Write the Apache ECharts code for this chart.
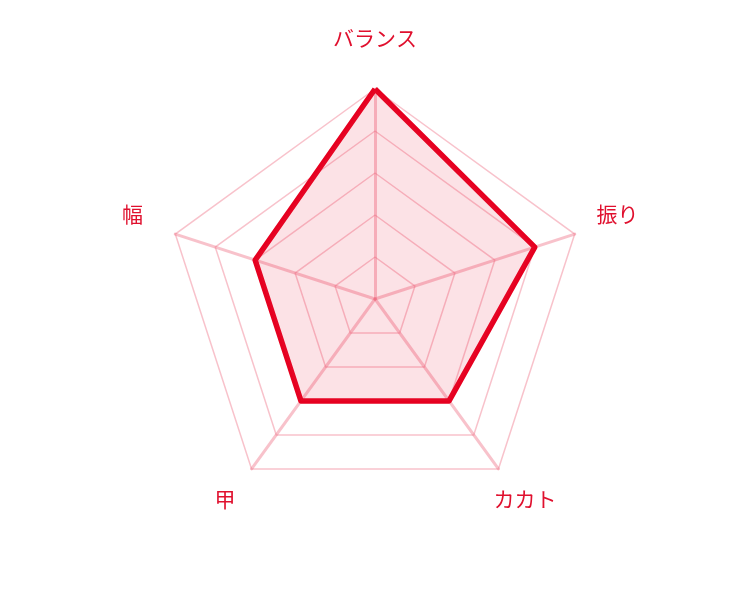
<!DOCTYPE html>
<html><head><meta charset="utf-8">
<script src="https://cdn.jsdelivr.net/npm/echarts@6/dist/echarts.min.js"></script>
<style>html,body{margin:0;padding:0;background:#fff}#c{width:750px;height:600px}</style>
</head><body><div id="c"></div>
<script>
const indicators = ['バランス', '幅', '甲', 'カカト', '振り'];
const maxValue = 5;
const values = [5, 3, 3, 3, 4];

const chart = echarts.init(document.getElementById('c'));
chart.setOption({
  animation: false,
  radar: {
    center: ['50%', 299],
    radius: 210,
    startAngle: 90,
    splitNumber: 5,
    shape: 'polygon',
    indicator: indicators.map(n => ({ name: n, max: maxValue, min: 0 })),
    axisName: {
      align: 'center', verticalAlign: 'middle',
      formatter: n => '{a|' + n + '}',
      rich: {
        a: { color: '#e0102e', fontSize: 21, fontFamily: 'Noto Sans CJK JP', padding: [0, 0, 12, 0] }
      }
    },
    nameGap: 45,
    splitArea: { show: false },
    splitLine: { lineStyle: { color: 'rgba(240,120,140,0.45)', width: 1.5 } },
    axisLine: { lineStyle: { color: 'rgba(240,120,140,0.45)', width: 3 } }
  },
  series: [{
    type: 'radar',
    symbol: 'none',
    lineStyle: { color: '#e60020', width: 5.5 },
    areaStyle: { color: 'rgba(235,40,70,0.19)' },
    data: [{ value: values }]
  }]
});
</script></body></html>
